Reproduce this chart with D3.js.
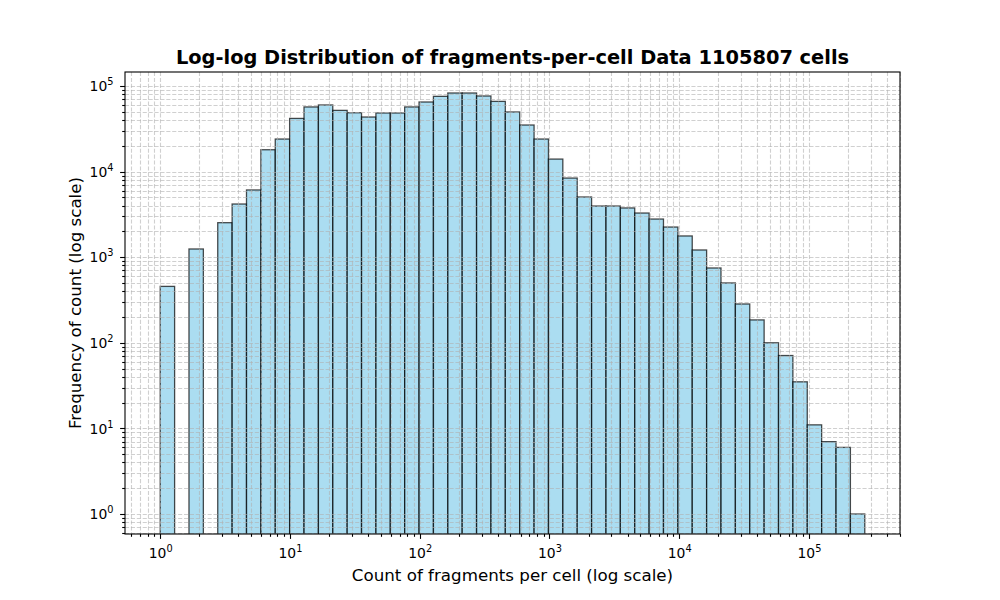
<!DOCTYPE html>
<html>
<head>
<meta charset="utf-8">
<script src="https://cdn.jsdelivr.net/npm/d3@7"></script>
<style>
  body { margin: 0; background: #fff; }
  svg { display: block; font-family: "DejaVu Sans", sans-serif; }
</style>
</head>
<body>
<svg id="chart" width="1000" height="600"></svg>
<script>
// histogram settings (log-spaced bins, like np.logspace(0, log10(max), 50))
const nBins = 49
const maxExp = 5.43
const binEdges = d3.range(nBins + 1).map(i => Math.pow(10, i * maxExp / nBins))

// counts per bin
const counts = [
  456, 0, 1247, 0, 2530, 4180, 6100, 18000, 24000, 41800,
  56900, 60000, 51900, 48700, 43400, 48400, 48400, 56900, 65000, 75700,
  82800, 82800, 76400, 66100, 49700, 35000, 24000, 14000, 8400, 5050,
  3960, 3960, 3760, 3280, 2790, 2250, 1770, 1214, 748, 500,
  284, 185, 100, 71, 35, 11, 7, 6, 1
]

const xMajorExps = [0, 1, 2, 3, 4, 5]
const yMajorExps = [0, 1, 2, 3, 4, 5]

const titleText = 'Log-log Distribution of fragments-per-cell Data 1105807 cells'
const xLabelText = 'Count of fragments per cell (log scale)'
const yLabelText = 'Frequency of count (log scale)'

const width = 1000
const height = 600
const margin = { top: 72, right: 100, bottom: 66, left: 125 }
const plotW = width - margin.left - margin.right
const plotH = height - margin.top - margin.bottom

const svg = d3.select('#chart')

// matplotlib-like autoscale: 5% margins in log space
const lo = Math.log10(binEdges[0])
const hi = Math.log10(binEdges[binEdges.length - 1])
const pad = (hi - lo) * 0.05
const x = d3.scaleLog()
  .domain([Math.pow(10, lo - pad), Math.pow(10, hi + pad)])
  .range([margin.left, margin.left + plotW])

const y = d3.scaleLog()
  .domain([0.584, 145700])
  .range([margin.top + plotH, margin.top])

const bins = counts.map((c, i) => ({ x0: binEdges[i], x1: binEdges[i + 1], count: c }))

svg.append('defs').append('clipPath').attr('id', 'plotclip')
  .append('rect')
  .attr('x', margin.left).attr('y', margin.top)
  .attr('width', plotW).attr('height', plotH)

// bars
svg.append('g')
  .attr('clip-path', 'url(#plotclip)')
  .selectAll('rect')
  .data(bins.filter(d => d.count > 0))
  .join('rect')
  .attr('x', d => x(d.x0))
  .attr('width', d => x(d.x1) - x(d.x0))
  .attr('y', d => y(d.count))
  .attr('height', d => margin.top + plotH + 5 - y(d.count))
  .attr('fill', '#87ceeb')
  .attr('fill-opacity', 0.7)
  .attr('stroke', '#000')
  .attr('stroke-opacity', 0.7)
  .attr('stroke-width', 1.3)

// minor + major tick positions
function logTicks(scale) {
  const [d0, d1] = scale.domain()
  const out = []
  for (let e = Math.floor(Math.log10(d0)); e <= Math.ceil(Math.log10(d1)); e++) {
    for (let m = 1; m <= 9; m++) {
      const v = m * Math.pow(10, e)
      if (v >= d0 && v <= d1) out.push({ v, major: m === 1 })
    }
  }
  return out
}
const xTicks = logTicks(x)
const yTicks = logTicks(y)

// grid (drawn above bars, as matplotlib does by default)
const grid = svg.append('g')
  .attr('stroke', '#b0b0b0')
  .attr('stroke-opacity', 0.6)
  .attr('stroke-width', 1.1)
  .attr('stroke-dasharray', '4.1,1.8')
grid.selectAll('.gx')
  .data(xTicks)
  .join('line')
  .attr('x1', d => Math.round(x(d.v)) + 0.5)
  .attr('x2', d => Math.round(x(d.v)) + 0.5)
  .attr('y1', margin.top)
  .attr('y2', margin.top + plotH)
grid.selectAll('.gy')
  .data(yTicks)
  .join('line')
  .attr('x1', margin.left)
  .attr('x2', margin.left + plotW)
  .attr('y1', d => Math.round(y(d.v)) + 0.5)
  .attr('y2', d => Math.round(y(d.v)) + 0.5)

// ticks
const tickG = svg.append('g').attr('stroke', '#000').attr('stroke-width', 1.1)
tickG.selectAll('.tx')
  .data(xTicks)
  .join('line')
  .attr('x1', d => Math.round(x(d.v)) + 0.5)
  .attr('x2', d => Math.round(x(d.v)) + 0.5)
  .attr('y1', margin.top + plotH)
  .attr('y2', d => margin.top + plotH + (d.major ? 4.9 : 2.8))
tickG.selectAll('.ty')
  .data(yTicks)
  .join('line')
  .attr('x1', margin.left)
  .attr('x2', d => margin.left - (d.major ? 4.9 : 2.8))
  .attr('y1', d => Math.round(y(d.v)) + 0.5)
  .attr('y2', d => Math.round(y(d.v)) + 0.5)

// spines
svg.append('rect')
  .attr('x', margin.left).attr('y', margin.top)
  .attr('width', plotW).attr('height', plotH)
  .attr('fill', 'none')
  .attr('stroke', '#000')
  .attr('stroke-width', 1.1)

// power-of-ten labels
function powLabel(sel, e) {
  sel.append('tspan').text('10')
  sel.append('tspan').attr('dy', -6).attr('font-size', 9.8).text(e)
}

svg.append('g').selectAll('text')
  .data(xMajorExps)
  .join('text')
  .attr('x', d => x(Math.pow(10, d)) + 0.5)
  .attr('y', margin.top + plotH + 24)
  .attr('text-anchor', 'middle')
  .attr('font-size', 13.9)
  .each(function (d) { powLabel(d3.select(this), d) })

svg.append('g').selectAll('text')
  .data(yMajorExps)
  .join('text')
  .attr('x', margin.left - 11.5)
  .attr('y', d => y(Math.pow(10, d)) + 5.2)
  .attr('text-anchor', 'end')
  .attr('font-size', 13.9)
  .each(function (d) { powLabel(d3.select(this), d) })

// title and axis labels
svg.append('text')
  .attr('x', margin.left + plotW / 2)
  .attr('y', 64)
  .attr('text-anchor', 'middle')
  .attr('font-size', 19.4)
  .attr('font-weight', 'bold')
  .text(titleText)

svg.append('text')
  .attr('x', margin.left + plotW / 2)
  .attr('y', 581)
  .attr('text-anchor', 'middle')
  .attr('font-size', 16.7)
  .text(xLabelText)

svg.append('text')
  .attr('transform', `translate(81, ${margin.top + plotH / 2}) rotate(-90)`)
  .attr('text-anchor', 'middle')
  .attr('font-size', 16.7)
  .text(yLabelText)
</script>
</body>
</html>
